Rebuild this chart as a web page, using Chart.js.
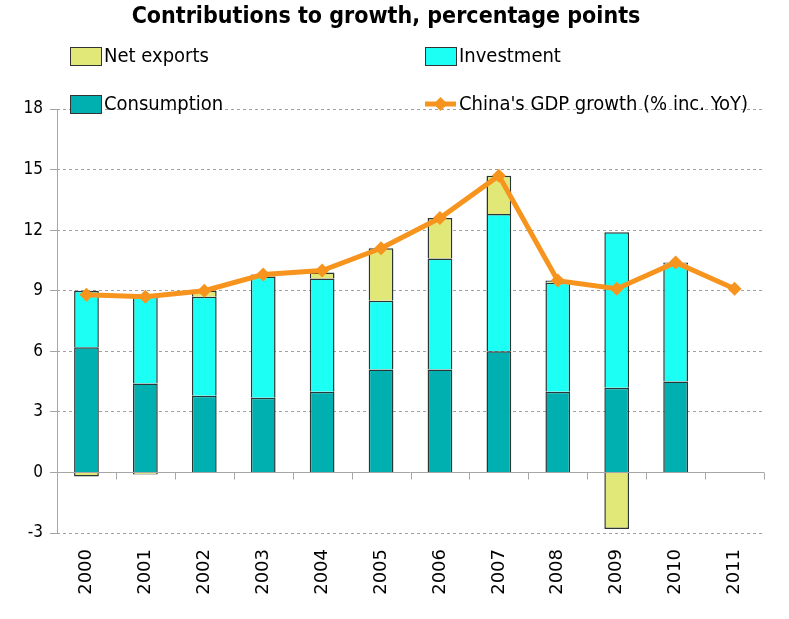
<!DOCTYPE html>
<html><head><meta charset="utf-8">
<script src="https://cdn.jsdelivr.net/npm/chart.js@4"></script>
<style>html,body{margin:0;padding:0;background:#fff;}#wrap{width:789px;height:619px;position:relative;}</style>
</head><body><div id="wrap"><canvas id="c" width="789" height="619"></canvas></div>
<script>
const years = ['2000','2001','2002','2003','2004','2005','2006','2007','2008','2009','2010','2011'];
const consumption = [6.2, 4.4, 3.8, 3.7, 4.0, 5.1, 5.1, 6.0, 4.0, 4.2, 4.5, null];
const investment  = [2.8, 4.4, 4.9, 6.0, 5.6, 3.4, 5.5, 6.8, 5.4, 7.7, 5.8, null];
const netExports  = [-0.2, -0.1, 0.3, 0.1, 0.3, 2.6, 2.0, 1.9, 0.1, -2.8, 0.1, null];
const gdpGrowth   = [8.8, 8.7, 9.0, 9.8, 10.0, 11.1, 12.6, 14.7, 9.5, 9.1, 10.4, 9.1];
const yTicks = [-3, 0, 3, 6, 9, 12, 15, 18];
const titleText = 'Contributions to growth, percentage points';

const C_CONS = '#00AFAF', C_INV = '#1CFFF4', C_NX = '#E1E878', C_GDP = '#F7941E';
const NARROW = '"Liberation Sans Narrow", "Arial Narrow", "DejaVu Sans Condensed", sans-serif';

const overlay = {
  id: 'overlay',
  beforeDatasetsDraw(chart) {
    const ctx = chart.ctx, a = chart.chartArea;
    ctx.save();
    ctx.strokeStyle = '#A6A6A6'; ctx.lineWidth = 1;
    ctx.beginPath(); ctx.moveTo(a.left + 0.5, a.top); ctx.lineTo(a.left + 0.5, a.bottom); ctx.stroke();
    ctx.restore();
  },
  afterDraw(chart) {
    const ctx = chart.ctx;
    ctx.save();
    ctx.fillStyle = '#000';
    ctx.font = 'bold 23px ' + NARROW;
    ctx.textAlign = 'center'; ctx.textBaseline = 'middle';
    ctx.fillText(titleText, 386, 17);
    ctx.font = '20px ' + NARROW;
    ctx.textAlign = 'left';
    const items = [
      {t:'Net exports', c:C_NX, x:70, y:56, box:true},
      {t:'Investment', c:C_INV, x:425, y:56, box:true},
      {t:'Consumption', c:C_CONS, x:70, y:104, box:true},
      {t:"China's GDP growth (% inc. YoY)", c:C_GDP, x:425, y:104, box:false}
    ];
    items.forEach(it => {
      if (it.box) {
        ctx.fillStyle = it.c; ctx.fillRect(it.x, it.y - 9, 31, 18);
        ctx.strokeStyle = '#333'; ctx.lineWidth = 1; ctx.strokeRect(it.x + 0.5, it.y - 8.5, 31, 18);
      } else {
        ctx.strokeStyle = it.c; ctx.lineWidth = 5;
        ctx.beginPath(); ctx.moveTo(it.x, it.y); ctx.lineTo(it.x + 31, it.y); ctx.stroke();
        ctx.fillStyle = it.c; ctx.beginPath();
        const cx = it.x + 15.5; ctx.moveTo(cx, it.y - 7); ctx.lineTo(cx + 7, it.y); ctx.lineTo(cx, it.y + 7); ctx.lineTo(cx - 7, it.y); ctx.closePath(); ctx.fill();
      }
      ctx.fillStyle = '#000';
      ctx.fillText(it.t, it.x + 34, it.y + 1);
    });
    ctx.restore();
  }
};

const zeroAxis = {
  id: 'zeroAxis',
  beforeDatasetsDraw(chart) {
    const ctx = chart.ctx, y = chart.scales.y, a = chart.chartArea;
    const y0 = Math.round(y.getPixelForValue(0)) + 0.5;
    ctx.save();
    ctx.strokeStyle = '#A6A6A6'; ctx.lineWidth = 1;
    ctx.beginPath(); ctx.moveTo(a.left, y0); ctx.lineTo(a.right, y0); ctx.stroke();
    const n = years.length, w = (a.right - a.left) / n;
    for (let i = 0; i <= n; i++) {
      const px = Math.round(a.left + i * w) + 0.5;
      ctx.beginPath(); ctx.moveTo(px, y0); ctx.lineTo(px, y0 + 7); ctx.stroke();
    }
    ctx.restore();
  }
};

new Chart(document.getElementById('c'), {
  data: {
    labels: years,
    datasets: [
      {type:'line', label:"China's GDP growth (% inc. YoY)", data: gdpGrowth, borderColor: C_GDP, backgroundColor: C_GDP,
       borderWidth: 5, pointStyle: 'rectRot', pointRadius: 7, pointHoverRadius: 7, pointBorderWidth: 0, tension: 0, stack: 'gdp', order: 0},
      {type:'bar', label:'Consumption', data: consumption, backgroundColor: C_CONS, borderColor: '#2A3535', borderWidth: 1.5, stack: 's', order: 1},
      {type:'bar', label:'Investment', data: investment, backgroundColor: C_INV, borderColor: '#2A3535', borderWidth: 1.5, stack: 's', order: 1},
      {type:'bar', label:'Net exports', data: netExports, backgroundColor: C_NX, borderColor: '#2A3535', borderWidth: 1.5, stack: 's', order: 1}
    ]
  },
  options: {
    responsive: false, animation: false,
    layout: {padding: {top: 109, right: 25, left: 0, bottom: 0}},
    plugins: {legend: {display: false}, title: {display: false}, tooltip: {enabled: false}},
    datasets: {bar: {categoryPercentage: 1, barPercentage: 0.42}},
    scales: {
      x: {
        stacked: true,
        grid: {display: false},
        border: {display: false},
        ticks: {maxRotation: 90, minRotation: 90, padding: 8, color: '#000', font: {family: '"DejaVu Sans", sans-serif', size: 18}},
        afterFit(s) { s.height = 86; }
      },
      y: {
        stacked: true, min: -3, max: 18,
        afterBuildTicks(s) { s.ticks = yTicks.map(v => ({value: v})); },
        grid: {color: (c) => c.tick && c.tick.value === 0 ? 'rgba(0,0,0,0)' : '#A0A0A0', tickLength: 7, drawTicks: true, tickColor: '#A6A6A6'},
        border: {display: false, dash: [3, 3]},
        ticks: {padding: 7, color: '#000', font: {family: NARROW, size: 17}},
        afterFit(s) { s.width = 57; }
      }
    }
  },
  plugins: [zeroAxis, overlay]
});
</script></body></html>
